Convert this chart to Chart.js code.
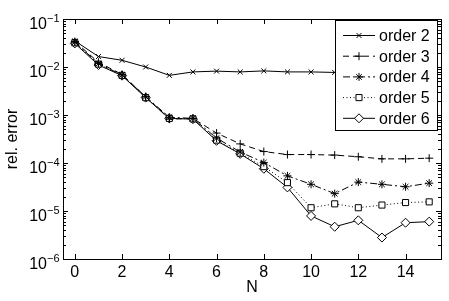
<!DOCTYPE html>
<html>
<head>
<meta charset="utf-8">
<script src="https://cdn.jsdelivr.net/npm/chart.js@4.4.0/dist/chart.umd.min.js"></script>
<style>
  html, body { margin: 0; padding: 0; background: #fff; }
  #wrap { width: 449px; height: 301px; position: relative; }
</style>
</head>
<body>
<div id="wrap"><canvas id="grafico"></canvas></div>
<script>
// dados
const valoresN = [0, 1, 2, 3, 4, 5, 6, 7, 8, 9, 10, 11, 12, 13, 14, 15];
const order2 = [0.035, 0.0165, 0.0138, 0.0100, 0.0067, 0.0079, 0.0082, 0.0079, 0.0083, 0.0079, 0.0079, 0.0077, 0.0078, 0.0077, 0.0078, 0.0078];
const order3 = [0.034, 0.0125, 0.0070, 0.0024, 0.00082, 0.00085, 0.00042, 0.00025, 0.000173, 0.00015, 0.00015, 0.000146, 0.000135, 0.000122, 0.000122, 0.000126];
const order4 = [0.033, 0.0118, 0.0068, 0.0024, 0.0009, 0.00085, 0.00033, 0.00017, 0.000102, 5.4e-5, 3.6e-5, 2.3e-5, 4.0e-5, 3.6e-5, 3.2e-5, 3.8e-5];
const order5 = [0.032, 0.0115, 0.0067, 0.0023, 0.00085, 0.00083, 0.00030, 0.00016, 8.4e-5, 3.9e-5, 1.17e-5, 1.41e-5, 1.17e-5, 1.33e-5, 1.5e-5, 1.55e-5];
const order6 = [0.031, 0.0110, 0.0066, 0.0023, 0.00085, 0.00082, 0.00029, 0.000155, 7.6e-5, 3.1e-5, 7.9e-6, 4.7e-6, 6.4e-6, 2.8e-6, 5.7e-6, 6.0e-6];
const xTicks = [0, 2, 4, 6, 8, 10, 12, 14];
const yExpoentes = [-1, -2, -3, -4, -5, -6];

const FONTE = '"Liberation Sans", Arial, Helvetica, sans-serif';

function pontos(vals) {
    return vals.map((v, i) => ({ x: valoresN[i], y: v }));
}

function serie(label, vals, estilo, raio, dash) {
    return {
        label: label,
        data: pontos(vals),
        borderColor: '#000',
        backgroundColor: '#fff',
        borderWidth: 1,
        borderDash: dash,
        pointStyle: estilo,
        pointRadius: raio,
        pointBorderColor: '#000',
        pointBackgroundColor: '#fff',
        pointBorderWidth: 1,
        tension: 0,
        fill: false
    };
}

// eixos estilo matlab: caixa, ticks para dentro, rótulos 10^x, legenda dentro
const estiloMatlab = {
    id: 'estiloMatlab',
    afterDatasetsDraw(chart) {
        const ctx = chart.ctx;
        const a = chart.chartArea;
        const xs = chart.scales.x;
        const ys = chart.scales.y;
        ctx.save();
        ctx.strokeStyle = '#000';
        ctx.lineWidth = 1;
        ctx.setLineDash([]);

        // ticks x
        ctx.beginPath();
        xTicks.forEach(t => {
            const px = Math.round(xs.getPixelForValue(t)) + 0.5;
            ctx.moveTo(px, a.bottom); ctx.lineTo(px, a.bottom - 5);
            ctx.moveTo(px, a.top); ctx.lineTo(px, a.top + 5);
        });
        // ticks y (maiores e menores)
        for (let e = -6; e <= -1; e++) {
            for (let m = 1; m <= 9; m++) {
                const v = m * Math.pow(10, e);
                if (v > 0.1 + 1e-12) continue;
                const py = Math.round(ys.getPixelForValue(v)) + 0.5;
                const len = m === 1 ? 5 : 3;
                ctx.moveTo(a.left, py); ctx.lineTo(a.left + len, py);
                ctx.moveTo(a.right, py); ctx.lineTo(a.right - len, py);
            }
        }
        ctx.stroke();

        // caixa
        ctx.strokeRect(Math.round(a.left) + 0.5, Math.round(a.top) + 0.5,
            Math.round(a.right - a.left), Math.round(a.bottom - a.top));

        // rótulos y 10^-n
        ctx.fillStyle = '#000';
        yExpoentes.forEach(e => {
            const py = ys.getPixelForValue(Math.pow(10, e));
            ctx.font = '16px ' + FONTE;
            ctx.textAlign = 'right';
            ctx.textBaseline = 'middle';
            ctx.fillText('10', 47, py + 6);
            ctx.font = '11px ' + FONTE;
            ctx.textAlign = 'left';
            ctx.fillText('\u2212' + Math.abs(e), 47, py);
        });

        // títulos
        ctx.font = '16px ' + FONTE;
        ctx.textAlign = 'center';
        ctx.textBaseline = 'middle';
        ctx.fillText('N', (a.left + a.right) / 2, 288);
        ctx.save();
        ctx.translate(13, (a.top + a.bottom) / 2);
        ctx.rotate(-Math.PI / 2);
        ctx.fillText('rel. error', 0, 0);
        ctx.restore();

        // legenda
        const lx = 335.5, ly = 20.5, lw = 102, lh = 110;
        ctx.fillStyle = '#fff';
        ctx.fillRect(lx, ly, lw, lh);
        ctx.strokeRect(lx, ly, lw, lh);
        chart.data.datasets.forEach((ds, i) => {
            const yy = 35.5 + i * 20.7;
            ctx.strokeStyle = '#000';
            ctx.setLineDash(ds.borderDash || []);
            ctx.beginPath();
            ctx.moveTo(343, yy); ctx.lineTo(375, yy);
            ctx.stroke();
            ctx.setLineDash([]);
            ctx.fillStyle = '#fff';
            Chart.helpers.drawPoint(ctx, {
                pointStyle: ds.pointStyle, radius: ds.pointRadius, borderWidth: 1, rotation: 0
            }, 359, yy);
            ctx.fillStyle = '#000';
            ctx.font = '16px ' + FONTE;
            ctx.textAlign = 'left';
            ctx.textBaseline = 'middle';
            ctx.fillText(ds.label, 379, yy + 1);
        });
        ctx.restore();
    }
};

const ctxGrafico = document.getElementById('grafico').getContext('2d');
new Chart(ctxGrafico, {
    type: 'line',
    data: {
        datasets: [
            serie('order 2', order2, 'crossRot', 3.5, []),
            serie('order 3', order3, 'cross', 4, [6, 4]),
            serie('order 4', order4, 'star', 4, [7, 3, 2, 3]),
            serie('order 5', order5, 'rect', 4.3, [1, 2.5]),
            serie('order 6', order6, 'rectRot', 4.5, [])
        ]
    },
    options: {
        responsive: true,
        maintainAspectRatio: false,
        animation: false,
        layout: { padding: { top: 19, right: 8, left: 0, bottom: 0 } },
        plugins: {
            legend: { display: false },
            tooltip: { enabled: false }
        },
        scales: {
            x: {
                type: 'linear',
                min: -0.5,
                max: 15.5,
                afterFit(s) { s.height = 42; },
                afterBuildTicks(s) { s.ticks = xTicks.map(v => ({ value: v })); },
                grid: { display: false, drawTicks: false },
                border: { display: false },
                ticks: {
                    color: '#000',
                    padding: 4,
                    maxRotation: 0,
                    font: { family: FONTE, size: 16 }
                }
            },
            y: {
                type: 'logarithmic',
                min: 1e-6,
                max: 1e-1,
                afterFit(s) { s.width = 63; },
                grid: { display: false, drawTicks: false },
                border: { display: false },
                ticks: { display: false }
            }
        }
    },
    plugins: [estiloMatlab]
});
</script>
</body>
</html>
